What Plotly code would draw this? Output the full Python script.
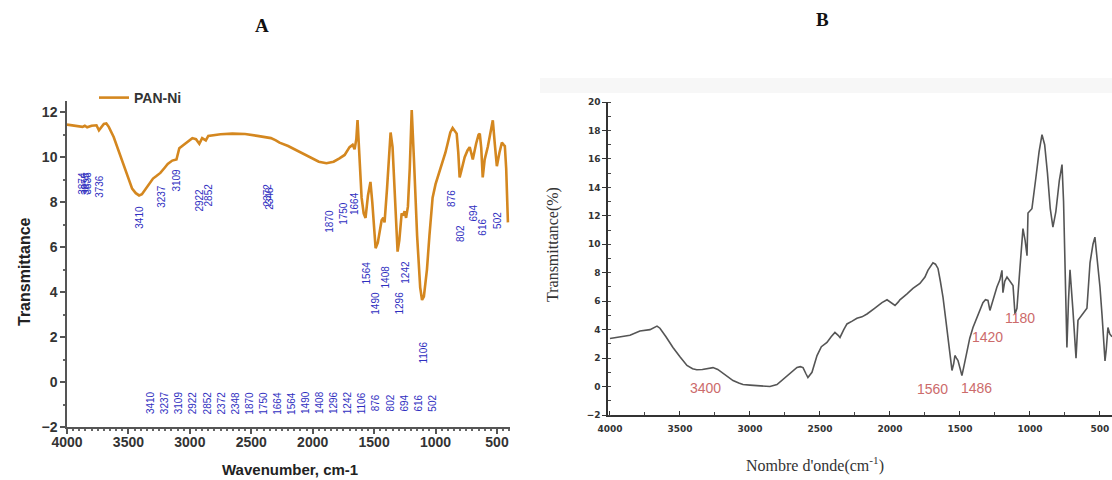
import plotly.graph_objects as go

# ---------------- Panel A : PAN-Ni ----------------
A_wn = [4000, 3950, 3900, 3874, 3855, 3836, 3800, 3760, 3740, 3720, 3700, 3680, 3660, 3620,
        3580, 3540, 3500, 3470, 3440, 3413, 3390, 3360, 3330, 3300, 3275, 3240, 3210, 3180,
        3143, 3109, 3086, 3040, 2980, 2950, 2923, 2900, 2870, 2850, 2817, 2750, 2654, 2550,
        2450, 2377, 2340, 2300, 2270, 2200, 2165, 2100, 2026, 1950, 1888, 1830, 1782, 1740,
        1700, 1675, 1659, 1645, 1635, 1620, 1602, 1585, 1570, 1550, 1530, 1515, 1500, 1488,
        1470, 1455, 1439, 1425, 1415, 1395, 1380, 1366, 1350, 1330, 1309, 1295, 1276, 1265,
        1252, 1240, 1225, 1210, 1194, 1175, 1150, 1125, 1110, 1095, 1070, 1050, 1024, 1000,
        970, 943, 920, 902, 880, 861, 845, 828, 815, 804, 790, 763, 740, 722, 710, 697, 670,
        650, 640, 628, 616, 600, 575, 555, 534, 518, 501, 480, 460, 445, 436, 425, 411]
A_t = [11.45, 11.42, 11.38, 11.35, 11.40, 11.33, 11.40, 11.42, 11.20, 11.35, 11.48, 11.50, 11.35, 10.90,
       10.30, 9.70, 9.05, 8.60, 8.40, 8.30, 8.35, 8.60, 8.85, 9.05, 9.15, 9.30, 9.50, 9.70,
       9.85, 9.90, 10.40, 10.60, 10.85, 10.80, 10.60, 10.85, 10.75, 10.95, 10.98, 11.02, 11.05, 11.03,
       10.95, 10.90, 10.85, 10.75, 10.65, 10.50, 10.40, 10.20, 10.00, 9.80, 9.73, 9.80, 9.95, 10.10,
       10.45, 10.55, 10.35, 10.80, 11.65, 10.20, 8.20, 7.50, 7.30, 8.30, 8.90, 8.00, 6.80, 5.95,
       6.20, 6.70, 7.20, 7.30, 7.10, 8.60, 10.20, 11.10, 10.45, 8.20, 5.80, 6.30, 7.50, 7.40,
       7.60, 7.30, 7.80, 9.50, 12.10, 9.80, 6.50, 4.20, 3.65, 3.80, 5.00, 6.50, 8.20, 8.80,
       9.30, 9.75, 10.20, 10.60, 11.10, 11.30, 11.20, 11.05, 10.20, 9.10, 9.40, 10.00, 10.30, 10.45, 10.20, 9.90, 10.60,
       11.00, 11.05, 10.40, 9.10, 9.90, 10.45, 11.10, 11.64, 10.60, 9.60, 10.20, 10.65, 10.55, 10.50, 9.50, 7.10]

A_peak_labels = ["3874", "3855", "3836", "3736", "3410", "3237", "3109", "2922", "2852",
                 "2372", "2348", "1870", "1750", "1664", "1564", "1490", "1408", "1296",
                 "1242", "1106", "876", "802", "694", "616", "502"]
A_peak_y = [8.84, 8.84, 8.84, 8.70, 7.33, 8.27, 8.98, 8.09, 8.30,
            8.30, 8.20, 7.16, 7.50, 7.96, 4.84, 3.50, 4.67, 3.50,
            4.90, 1.29, 8.18, 6.62, 7.50, 6.90, 7.20]
A_row_labels = ["3410", "3237", "3109", "2922", "2852", "2372", "2348", "1870", "1750", "1664",
                "1564", "1490", "1408", "1296", "1242", "1106", "876", "802", "694", "616", "502"]
A_row_y = -0.93

A_xticks = [4000, 3500, 3000, 2500, 2000, 1500, 1000, 500]
A_yticks = [-2, 0, 2, 4, 6, 8, 10, 12]

# ---------------- Panel B ----------------
B_wn = [4000, 3930, 3857, 3786, 3714, 3664, 3643, 3600, 3550, 3500, 3450, 3410, 3380, 3340,
        3307, 3264, 3230, 3200, 3160, 3121, 3080, 3050, 3000, 2950, 2900, 2857, 2807, 2770,
        2736, 2700, 2664, 2640, 2621, 2600, 2586, 2557, 2540, 2521, 2490, 2450, 2420, 2393,
        2370, 2357, 2330, 2307, 2270, 2236, 2200, 2164, 2110, 2057, 2021, 1990, 1964, 1940,
        1929, 1880, 1836, 1786, 1750, 1729, 1710, 1693, 1675, 1657, 1640, 1621, 1600, 1586,
        1570, 1557, 1545, 1536, 1525, 1514, 1500, 1486, 1470, 1450, 1430, 1407, 1370, 1336,
        1318, 1300, 1286, 1260, 1236, 1215, 1200, 1193, 1180, 1164, 1140, 1121, 1107, 1093,
        1071, 1050, 1035, 1021, 1014, 986, 960, 935, 914, 895, 875, 855, 836, 815, 790, 771,
        760, 750, 736, 725, 714, 693, 671, 657, 630, 593, 571, 550, 536, 520, 500, 485, 464,
        455, 443, 430, 414]
B_t = [3.38, 3.50, 3.60, 3.90, 4.00, 4.25, 4.10, 3.50, 2.75, 2.10, 1.48, 1.25, 1.18, 1.20,
       1.27, 1.33, 1.20, 1.00, 0.70, 0.42, 0.25, 0.14, 0.10, 0.07, 0.03, 0.00, 0.14, 0.45,
       0.77, 1.10, 1.34, 1.40, 1.33, 0.90, 0.63, 1.00, 1.60, 2.18, 2.80, 3.10, 3.50, 3.80,
       3.60, 3.45, 4.00, 4.40, 4.60, 4.80, 4.90, 5.10, 5.50, 5.90, 6.10, 5.90, 5.70, 5.95,
       6.10, 6.50, 6.90, 7.25, 7.70, 8.17, 8.50, 8.70, 8.60, 8.30, 7.40, 6.27, 4.60, 3.45,
       2.20, 1.13, 1.60, 2.18, 2.00, 1.83, 1.30, 0.77, 1.50, 2.50, 3.40, 4.15, 5.00, 5.90,
       6.10, 6.05, 5.35, 6.30, 7.00, 7.50, 8.17, 6.60, 7.40, 7.70, 7.40, 7.10, 5.10, 5.50,
       8.40, 11.10, 10.30, 9.20, 12.20, 12.50, 14.50, 16.50, 17.70, 17.00, 15.00, 12.50, 11.20, 12.30, 14.50, 15.60,
       13.00, 8.20, 2.75, 6.00, 8.20, 5.35, 2.00, 4.65, 5.00, 5.50, 8.70, 10.00, 10.50, 9.00, 7.00, 5.00, 1.80,
       2.60, 4.15, 3.70, 3.50]

B_labels = ["3400", "1560", "1486", "1420", "1180"]
B_label_x = [3321, 1693, 1379, 1300, 1071]
B_label_y = [-0.07, -0.14, -0.07, 3.45, 4.80]

B_xticks = [4000, 3500, 3000, 2500, 2000, 1500, 1000, 500]
B_yticks = [-2, 0, 2, 4, 6, 8, 10, 12, 14, 16, 18, 20]

W, H = 1112, 480
SANS = "Liberation Sans, Arial, sans-serif"
SERIF = "Liberation Serif, Times New Roman, serif"
BLUE = "#2f2fbf"
RED = "#cc6b6b"

fig = go.Figure()
fig.add_trace(go.Scatter(x=A_wn, y=A_t, mode="lines", name="PAN-Ni",
                         line=dict(color="#D4871F", width=2.6),
                         xaxis="x", yaxis="y"))
fig.add_trace(go.Scatter(x=B_wn, y=B_t, mode="lines", name="B", showlegend=False,
                         line=dict(color="#555555", width=1.6),
                         xaxis="x2", yaxis="y2"))

ann = []
for lab, yv in zip(A_peak_labels, A_peak_y):
    ann.append(dict(x=float(lab), y=yv, xref="x", yref="y", text=lab, showarrow=False,
                    textangle=-90, font=dict(family=SANS, size=10, color=BLUE),
                    xanchor="center", yanchor="middle"))
n = len(A_row_labels)
for i, lab in enumerate(A_row_labels):
    xv = 3315 - i * (3315 - 1023) / (n - 1)
    ann.append(dict(x=xv, y=A_row_y, xref="x", yref="y", text=lab, showarrow=False,
                    textangle=-90, font=dict(family=SANS, size=10, color=BLUE),
                    xanchor="center", yanchor="middle"))
for lab, xv, yv in zip(B_labels, B_label_x, B_label_y):
    ann.append(dict(x=xv, y=yv, xref="x2", yref="y2", text=lab, showarrow=False,
                    font=dict(family=SANS, size=14, color=RED),
                    xanchor="center", yanchor="middle"))


def pann(px, py, text, font, angle=0):
    return dict(x=px / W, y=1 - py / H, xref="paper", yref="paper", text=text,
                showarrow=False, textangle=angle, font=font,
                xanchor="center", yanchor="middle")


ann += [
    pann(262, 25, "A", dict(family=SERIF, size=19, color="#111", weight="bold")),
    pann(822, 20, "B", dict(family=SERIF, size=19, color="#111", weight="bold")),
    pann(24, 272, "Transmittance", dict(family=SANS, size=16, color="#222", weight="bold"), -90),
    pann(290, 469, "Wavenumber, cm-1", dict(family=SANS, size=15, color="#222", weight="bold")),
    pann(553, 245, "Transmittance(%)", dict(family=SERIF, size=16, color="#333"), -90),
    pann(815, 464, "Nombre d'onde(cm<sup>-1</sup>)", dict(family=SERIF, size=16, color="#333")),
]

fig.update_layout(
    template="none",
    width=W, height=H,
    margin=dict(l=0, r=0, t=0, b=0, autoexpand=False),
    paper_bgcolor="white", plot_bgcolor="white",
    showlegend=True,
    legend=dict(x=94 / W, y=1 - 98 / H, xanchor="left", yanchor="middle",
                bgcolor="rgba(0,0,0,0)", borderwidth=0,
                font=dict(family=SANS, size=14, color="#333", weight="bold")),
    annotations=ann,
    shapes=[dict(type="rect", xref="paper", yref="paper", x0=540 / W, x1=1,
                 y0=1 - 93 / H, y1=1 - 78 / H, fillcolor="#f7f7f7",
                 line=dict(width=0), layer="below")],
    xaxis=dict(domain=[67 / W, 510 / W], range=[4000, 394], anchor="y", automargin=False,
               tickvals=A_xticks, ticks="outside", ticklen=5, tickwidth=1.5,
               tickcolor="#555", showline=True, linecolor="#555", linewidth=1.5,
               showgrid=False, zeroline=False, ticklabelstandoff=-4,
               minor=dict(dtick=50, ticks="outside", ticklen=2.5, tickcolor="#666", showgrid=False),
               tickfont=dict(family=SANS, size=14, color="#333", weight="bold")),
    yaxis=dict(domain=[1 - 427 / H, 1 - 101 / H], range=[-2, 12.5], anchor="x", automargin=False,
               tickvals=A_yticks, ticks="outside", ticklen=5, tickwidth=1.5,
               tickcolor="#555", showline=True, linecolor="#555", linewidth=1.5,
               showgrid=False, zeroline=False,
               minor=dict(dtick=1, ticks="outside", ticklen=2.5, tickcolor="#666", showgrid=False),
               tickfont=dict(family=SANS, size=14, color="#333", weight="bold")),
    xaxis2=dict(domain=[608 / W, 1.0], range=[4014, 414], anchor="y2", automargin=False,
                tickvals=B_xticks, ticks="inside", ticklen=4, tickwidth=1.3,
                tickcolor="#333", showline=True, linecolor="#333", linewidth=1.5,
                showgrid=False, zeroline=False, ticklabelstandoff=4,
                minor=dict(dtick=250, ticks="inside", ticklen=3, tickcolor="#444", showgrid=False),
                tickfont=dict(family="DejaVu Sans, sans-serif", size=9, color="#333", weight="bold")),
    yaxis2=dict(domain=[1 - 415 / H, 1 - 102 / H], range=[-2, 20], anchor="x2", automargin=False,
                tickvals=B_yticks, ticks="outside", ticklen=4, tickwidth=1.3,
                tickcolor="#333", showline=True, linecolor="#333", linewidth=1.5,
                showgrid=False, zeroline=False,
                minor=dict(dtick=1, ticks="inside", ticklen=3, tickcolor="#444", showgrid=False),
                tickfont=dict(family="DejaVu Sans, sans-serif", size=9, color="#333", weight="bold")),
)

fig.write_html("out.html")
